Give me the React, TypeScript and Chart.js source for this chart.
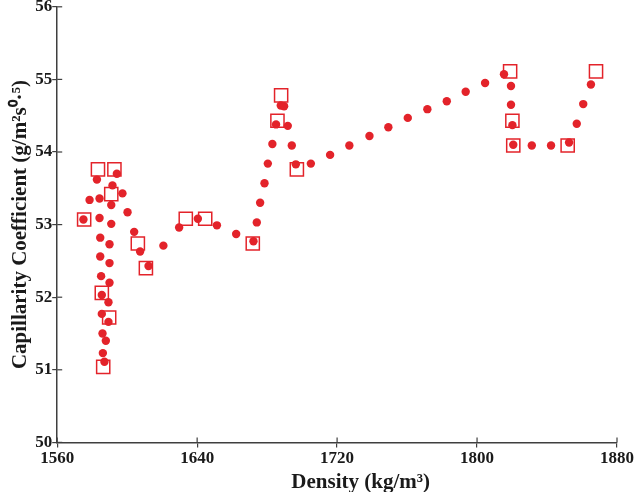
import { useEffect, useRef } from "react";
import { Chart, registerables } from "chart.js";

Chart.register(...registerables);

// model curve (filled circles)
const CIRCLE_X = [
  1575, 1578.5, 1582.7, 1584.2, 1584.2, 1584.6, 1584.6, 1585.1, 1585.5, 1585.5,
  1585.9, 1586.1, 1587, 1587.8, 1589.3, 1589.3, 1589.9, 1589.9, 1589.9, 1590.9,
  1590.9, 1591.6, 1594.1, 1597.3, 1600.2, 1604, 1607.4, 1612.2, 1620.7, 1629.7,
  1640.4, 1651.3, 1662.3, 1672.2, 1674.1, 1676, 1678.5, 1680.4, 1683, 1685.1,
  1687.8, 1689.7, 1691.8, 1694.1, 1696.4, 1705, 1716, 1727, 1738.5, 1749.3,
  1760.4, 1771.6, 1782.7, 1793.5, 1804.6, 1815.4, 1819.4, 1819.4, 1820.2, 1820.7,
  1831.3, 1842.3, 1852.6, 1857, 1860.7, 1865.1,
];
const CIRCLE_Y = [
  53.07, 53.34, 53.62, 53.36, 53.09, 52.82, 52.56, 52.29, 52.03, 51.77,
  51.5, 51.23, 51.11, 51.4, 51.66, 51.93, 52.2, 52.47, 52.73, 53.01,
  53.27, 53.54, 53.7, 53.43, 53.17, 52.9, 52.63, 52.43, 52.71, 52.96,
  53.08, 52.99, 52.87, 52.77, 53.03, 53.3, 53.57, 53.84, 54.11, 54.38,
  54.64, 54.63, 54.36, 54.09, 53.83, 53.84, 53.96, 54.09, 54.22, 54.34,
  54.47, 54.59, 54.7, 54.83, 54.95, 55.07, 54.91, 54.65, 54.37, 54.1,
  54.09, 54.09, 54.13, 54.39, 54.66, 54.93,
];

// measured values (open squares)
const SQUARE_X = [
  1575.4, 1583.3, 1585.5, 1586.3, 1589.7, 1590.9, 1592.7, 1606.1, 1610.7, 1633.5,
  1644.6, 1671.8, 1685.9, 1688, 1697, 1818.9, 1820.2, 1820.7, 1851.8, 1868,
];
const SQUARE_Y = [
  53.07, 53.76, 52.06, 51.04, 51.72, 53.42, 53.76, 52.74, 52.4, 53.08,
  53.08, 52.74, 54.43, 54.78, 53.76, 55.11, 54.43, 54.09, 54.09, 55.11,
];

const X_TICKS = [1560, 1640, 1720, 1800, 1880];
const Y_TICKS = [50, 51, 52, 53, 54, 55, 56];

const RED = "#e3232a";
const AXIS = "#3f3f3f";
const FONT = "'Liberation Serif', 'Times New Roman', serif";

// short ticks on the inner side, so they cross the axis line
const innerTicks = {
  id: "innerTicks",
  afterDraw(chart: any) {
    const { ctx, chartArea, scales } = chart;
    ctx.save();
    ctx.strokeStyle = AXIS;
    ctx.lineWidth = 1.2;
    X_TICKS.forEach((v) => {
      const px = scales.x.getPixelForValue(v);
      ctx.beginPath();
      ctx.moveTo(px, chartArea.bottom);
      ctx.lineTo(px, chartArea.bottom - 5);
      ctx.stroke();
    });
    Y_TICKS.forEach((v) => {
      const py = scales.y.getPixelForValue(v);
      ctx.beginPath();
      ctx.moveTo(chartArea.left, py);
      ctx.lineTo(chartArea.left + 5, py);
      ctx.stroke();
    });
    ctx.restore();
  },
};

export default function App() {
  const canvasRef = useRef<HTMLCanvasElement>(null);
  const chartRef = useRef<Chart | null>(null);

  useEffect(() => {
    if (!canvasRef.current) return;
    if (chartRef.current) chartRef.current.destroy();

    chartRef.current = new Chart(canvasRef.current, {
      type: "scatter",
      data: {
        datasets: [
          {
            label: "model",
            data: CIRCLE_X.map((x, i) => ({ x, y: CIRCLE_Y[i] })),
            pointStyle: "circle",
            pointRadius: 4.2,
            backgroundColor: RED,
            borderColor: RED,
            borderWidth: 0,
          },
          {
            label: "experiment",
            data: SQUARE_X.map((x, i) => ({ x, y: SQUARE_Y[i] })),
            pointStyle: "rect",
            pointRadius: 9.3,
            backgroundColor: "rgba(0,0,0,0)",
            borderColor: RED,
            borderWidth: 1.5,
          },
        ],
      },
      options: {
        animation: false,
        responsive: true,
        maintainAspectRatio: false,
        layout: { padding: { left: 8, right: 23, top: 0, bottom: 0 } },
        scales: {
          x: {
            type: "linear",
            min: 1560,
            max: 1880,
            afterBuildTicks: (s: any) => { s.ticks = X_TICKS.map((value) => ({ value })); },
            border: { color: AXIS, width: 1.5 },
            grid: { drawOnChartArea: false, tickLength: 5, color: AXIS, lineWidth: 1.2 },
            ticks: {
              color: "#1a1a1a",
              padding: 1,
              font: { family: FONT, size: 17, weight: "bold" },
              callback: (v: any) => String(v),
            },
            title: {
              display: true,
              // leading spaces push the title a little right of centre, as in the original
              text: "         Density (kg/m³)",
              color: "#1a1a1a",
              padding: { top: 0, bottom: 0 },
              font: { family: FONT, size: 21, weight: "bold" },
            },
          },
          y: {
            type: "linear",
            min: 50,
            max: 56,
            afterBuildTicks: (s: any) => { s.ticks = Y_TICKS.map((value) => ({ value })); },
            border: { color: AXIS, width: 1.5 },
            grid: { drawOnChartArea: false, tickLength: 5, color: AXIS, lineWidth: 1.2 },
            ticks: {
              color: "#1a1a1a",
              padding: 0,
              font: { family: FONT, size: 17, weight: "bold" },
              callback: (v: any) => String(v),
            },
            title: {
              display: true,
              text: "Capillarity Coefficient (g/m²s⁰·⁵)",
              color: "#1a1a1a",
              padding: { top: 0, bottom: 2 },
              font: { family: FONT, size: 21, weight: "bold" },
            },
          },
        },
        plugins: {
          legend: { display: false },
          tooltip: { enabled: false },
        },
      },
      plugins: [innerTicks],
    });

    return () => { chartRef.current?.destroy(); };
  }, []);

  return (
    <div style={{ position: "fixed", left: 0, top: -4, width: 640, height: 499, background: "#fff" }}>
      <canvas ref={canvasRef} />
    </div>
  );
}
